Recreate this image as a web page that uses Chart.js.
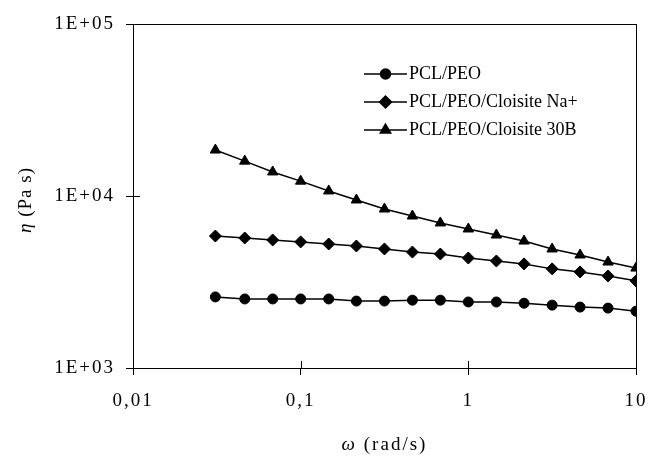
<!DOCTYPE html>
<html>
<head>
<meta charset="utf-8">
<script src="https://cdn.jsdelivr.net/npm/chart.js@4/dist/chart.umd.min.js"></script>
<style>
  html, body { margin: 0; padding: 0; background: #fff; }
  #wrap { width: 648px; height: 461px; }
</style>
</head>
<body>
<div id="wrap"><canvas id="viscChart" width="648" height="461"></canvas></div>
<script>
// frequency (rad/s) and complex viscosity (Pa s)
const omega = [0.031, 0.0464, 0.0681, 0.1, 0.147, 0.215, 0.316, 0.464, 0.681, 1, 1.47, 2.15, 3.16, 4.64, 6.81, 10];
const pclPeo = [2590, 2520, 2520, 2520, 2520, 2450, 2450, 2480, 2480, 2420, 2420, 2380, 2320, 2260, 2230, 2140];
const pclPeoNa = [5850, 5700, 5550, 5410, 5260, 5120, 4920, 4720, 4600, 4360, 4190, 4030, 3770, 3620, 3430, 3210];
const pclPeo30B = [18500, 15950, 13800, 12200, 10700, 9480, 8400, 7650, 6970, 6430, 5930, 5470, 4920, 4540, 4130, 3810];

const seriesNames = ['PCL/PEO', 'PCL/PEO/Cloisite Na+', 'PCL/PEO/Cloisite 30B'];

const xTickValues = [0.01, 0.1, 1, 10];
const xTickLabels = ['0,01', '0,1', '1', '10'];
const yTickValues = [1000, 10000, 100000];
const yTickLabels = ['1E+03', '1E+04', '1E+05'];

const FONT = '"Liberation Serif", "Times New Roman", serif';

function toPoints(ys) {
    return omega.map((x, i) => ({ x: x, y: ys[i] }));
}

function makeSet(label, ys, style, radius) {
    return {
        label: label,
        data: toPoints(ys),
        showLine: true,
        borderColor: '#000',
        backgroundColor: '#000',
        borderWidth: 1.5,
        pointStyle: style,
        pointRadius: radius,
        pointBorderWidth: 1,
        pointBorderColor: '#000',
        pointBackgroundColor: '#000',
        tension: 0
    };
}

// draw a label with an italic greek letter in front
function mixedText(ctx, greek, rest, cx, cy, size) {
    ctx.font = 'italic ' + size + 'px ' + FONT;
    const w1 = ctx.measureText(greek).width;
    ctx.font = size + 'px ' + FONT;
    const w2 = ctx.measureText(rest).width;
    const x0 = cx - (w1 + w2) / 2;
    ctx.textAlign = 'left';
    ctx.textBaseline = 'middle';
    ctx.font = 'italic ' + size + 'px ' + FONT;
    ctx.fillText(greek, x0, cy);
    ctx.font = size + 'px ' + FONT;
    ctx.fillText(rest, x0 + w1, cy);
}

// box round the plot area, inner tick halves, legend and axis titles
const framePlugin = {
    id: 'frame',
    beforeDraw(chart) {
        // the old bitmap font is wider than Liberation Serif
        chart.ctx.letterSpacing = '2px';
    },
    afterDraw(chart) {
        const ctx = chart.ctx;
        const area = chart.chartArea;
        const xs = chart.scales.x;
        const ys = chart.scales.y;
        ctx.save();
        ctx.letterSpacing = '0px';
        ctx.strokeStyle = '#000';
        ctx.lineWidth = 1;
        ctx.strokeRect(Math.round(area.left) + 0.5, Math.round(area.top) + 0.5,
            Math.round(area.right - area.left), Math.round(area.bottom - area.top));

        ctx.beginPath();
        xTickValues.forEach(v => {
            const px = Math.round(xs.getPixelForValue(v)) + 0.5;
            ctx.moveTo(px, area.bottom);
            ctx.lineTo(px, area.bottom - 7);
        });
        yTickValues.forEach(v => {
            const py = Math.round(ys.getPixelForValue(v)) + 0.5;
            ctx.moveTo(area.left, py);
            ctx.lineTo(area.left + 7, py);
        });
        ctx.stroke();

        // legend
        const lx0 = 364, lx1 = 407, rowY = [74, 102, 130];
        chart.data.datasets.forEach((ds, i) => {
            const y = rowY[i];
            ctx.beginPath();
            ctx.lineWidth = 1.5;
            ctx.moveTo(lx0, y);
            ctx.lineTo(lx1, y);
            ctx.stroke();
            Chart.helpers.drawPoint(ctx, {
                pointStyle: ds.pointStyle,
                radius: ds.pointRadius,
                borderWidth: 1,
                rotation: 0
            }, (lx0 + lx1) / 2, y);
            ctx.fillStyle = '#000';
            ctx.font = '18px ' + FONT;
            ctx.textAlign = 'left';
            ctx.textBaseline = 'middle';
            ctx.fillText(ds.label, lx1 + 2, y);
        });

        // axis titles
        ctx.letterSpacing = '2px';
        mixedText(ctx, 'ω', ' (rad/s)', (area.left + area.right) / 2, 445, 19);
        ctx.letterSpacing = '1px';
        ctx.translate(26, 200);
        ctx.rotate(-Math.PI / 2);
        mixedText(ctx, 'η', ' (Pa s)', 0, 0, 19);
        ctx.restore();
    }
};

const ctx = document.getElementById('viscChart').getContext('2d');
new Chart(ctx, {
    type: 'scatter',
    data: {
        datasets: [
            makeSet(seriesNames[0], pclPeo, 'circle', 5),
            makeSet(seriesNames[1], pclPeoNa, 'rectRot', 6),
            makeSet(seriesNames[2], pclPeo30B, 'triangle', 6)
        ]
    },
    options: {
        responsive: false,
        animation: false,
        devicePixelRatio: 1,
        layout: { padding: { left: 0, top: 24, right: 0, bottom: 0 } },
        plugins: {
            legend: { display: false },
            tooltip: { enabled: false }
        },
        scales: {
            x: {
                type: 'logarithmic',
                min: 0.01,
                max: 10,
                afterBuildTicks: scale => { scale.ticks = xTickValues.map(v => ({ value: v })); },
                afterFit: scale => {
                    scale.height = 93;
                    scale.paddingRight = 12;
                },
                ticks: {
                    autoSkip: false,
                    maxRotation: 0,
                    padding: 15,
                    color: '#000',
                    font: { family: FONT, size: 19 },
                    callback: function(value) {
                        const i = xTickValues.indexOf(value);
                        return i >= 0 ? xTickLabels[i] : '';
                    }
                },
                grid: { drawOnChartArea: false, drawTicks: true, tickLength: 7, color: '#000' },
                border: { display: true, color: '#000', width: 1 }
            },
            y: {
                type: 'logarithmic',
                min: 1000,
                max: 100000,
                afterBuildTicks: scale => { scale.ticks = yTickValues.map(v => ({ value: v })); },
                afterFit: scale => { scale.width = 133; },
                ticks: {
                    autoSkip: false,
                    padding: 11,
                    color: '#000',
                    font: { family: FONT, size: 19 },
                    callback: function(value) {
                        const i = yTickValues.indexOf(value);
                        return i >= 0 ? yTickLabels[i] : '';
                    }
                },
                grid: { drawOnChartArea: false, drawTicks: true, tickLength: 7, color: '#000' },
                border: { display: true, color: '#000', width: 1 }
            }
        }
    },
    plugins: [framePlugin]
});
</script>
</body>
</html>
